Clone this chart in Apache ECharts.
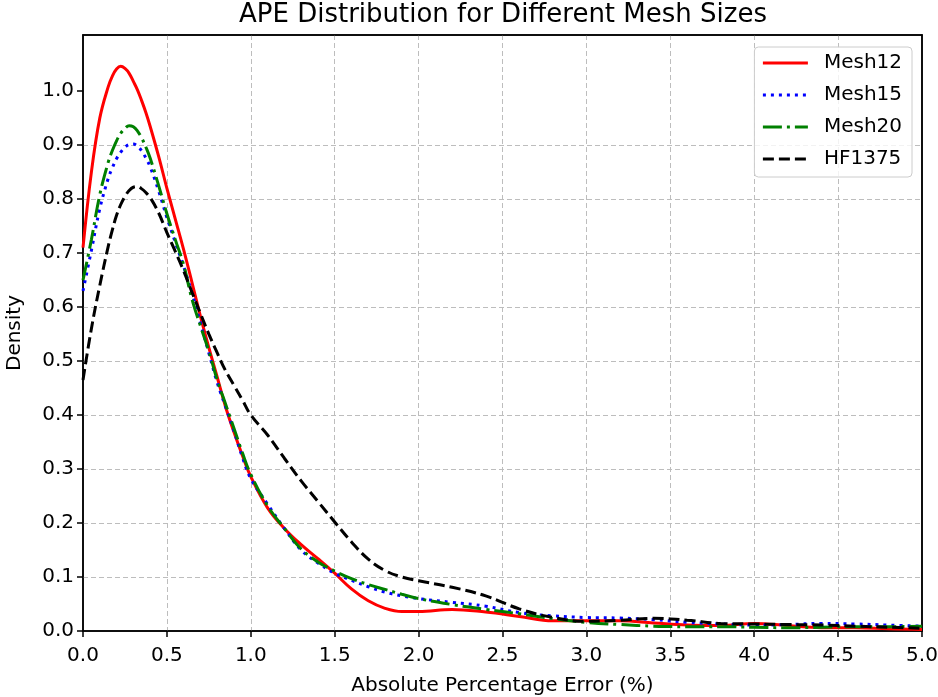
<!DOCTYPE html>
<html>
<head>
<meta charset="utf-8">
<script src="https://cdn.jsdelivr.net/npm/echarts@6/dist/echarts.min.js"></script>
<style>
html,body{margin:0;padding:0;background:#fff;}
#chart{width:938px;height:697px;}
</style>
</head>
<body>
<div id="chart"></div>
<script>
// ---- data ----
const chartTitle = 'APE Distribution for Different Mesh Sizes';
const xAxisName = 'Absolute Percentage Error (%)';
const yAxisName = 'Density';
const seriesNames = ['Mesh12', 'Mesh15', 'Mesh20', 'HF1375'];
const xTicks = [0, 0.5, 1, 1.5, 2, 2.5, 3, 3.5, 4, 4.5, 5];
const yTicks = [0, 0.1, 0.2, 0.3, 0.4, 0.5, 0.6, 0.7, 0.8, 0.9, 1.0];

const apeX = [0, 0.05, 0.1, 0.15, 0.175, 0.2, 0.225, 0.25, 0.275, 0.3, 0.325, 0.35, 0.375, 0.4, 0.45, 0.5, 0.55, 0.6, 0.65, 0.7, 0.75, 0.8, 0.85, 0.9, 0.95,
  1.0, 1.1, 1.2, 1.3, 1.4, 1.5, 1.6, 1.7, 1.8, 1.9, 2.0, 2.2, 2.4, 2.6, 2.8, 3.0, 3.2, 3.4, 3.6, 3.8, 4.0, 4.2, 4.4, 4.6, 4.8, 5.0];

const mesh12 = [0.71, 0.850, 0.950, 1.008, 1.028, 1.041, 1.046, 1.042, 1.033, 1.018, 1.002, 0.982, 0.960, 0.935, 0.880, 0.820, 0.763, 0.706, 0.645, 0.583, 0.525, 0.470, 0.415, 0.368, 0.325,
  0.286, 0.228, 0.190, 0.160, 0.134, 0.107, 0.078, 0.056, 0.042, 0.036, 0.036, 0.040, 0.035, 0.027, 0.019, 0.019, 0.019, 0.015, 0.011, 0.010, 0.014, 0.010, 0.006, 0.006, 0.004, 0.003];

const mesh15 = [0.63, 0.705, 0.782, 0.838, 0.858, 0.875, 0.887, 0.896, 0.901, 0.902, 0.898, 0.889, 0.876, 0.860, 0.816, 0.766, 0.720, 0.675, 0.625, 0.570, 0.515, 0.460, 0.415, 0.370, 0.322,
  0.282, 0.235, 0.190, 0.150, 0.126, 0.107, 0.094, 0.082, 0.072, 0.065, 0.060, 0.053, 0.046, 0.034, 0.028, 0.025, 0.024, 0.021, 0.016, 0.013, 0.011, 0.012, 0.014, 0.013, 0.011, 0.009];

const mesh20 = [0.65, 0.725, 0.808, 0.868, 0.890, 0.908, 0.922, 0.931, 0.936, 0.934, 0.926, 0.913, 0.896, 0.876, 0.826, 0.773, 0.725, 0.678, 0.614, 0.565, 0.518, 0.465, 0.420, 0.375, 0.330,
  0.290, 0.232, 0.190, 0.152, 0.128, 0.111, 0.097, 0.086, 0.077, 0.068, 0.060, 0.049, 0.040, 0.032, 0.023, 0.016, 0.012, 0.009, 0.008, 0.008, 0.007, 0.006, 0.007, 0.008, 0.008, 0.0086];

const hf1375 = [0.465, 0.560, 0.640, 0.712, 0.743, 0.770, 0.790, 0.805, 0.816, 0.822, 0.823, 0.819, 0.812, 0.803, 0.775, 0.738, 0.703, 0.667, 0.627, 0.588, 0.550, 0.515, 0.482, 0.455, 0.428,
  0.400, 0.363, 0.320, 0.278, 0.240, 0.202, 0.165, 0.133, 0.112, 0.100, 0.093, 0.081, 0.065, 0.041, 0.025, 0.018, 0.020, 0.0235, 0.020, 0.014, 0.013, 0.012, 0.011, 0.009, 0.007, 0.005];

const seriesValues = [mesh12, mesh15, mesh20, hf1375];

// ---- styles ----
const seriesColors = ['#ff0000', '#0000ff', '#008000', '#000000'];
const seriesDash = ['solid', [3, 5], [19, 5, 3, 5], [11, 5]];

const chart = echarts.init(document.getElementById('chart'), null, {renderer: 'canvas'});
const font = 'DejaVu Sans';

const axisLineStyle = {color: '#000', width: 1.5};
const gridLine = {color: '#bdbdbd', width: 1, type: [5, 3]};

const option = {
  backgroundColor: '#ffffff',
  animation: false,
  textStyle: {fontFamily: font},
  title: {
    text: chartTitle,
    left: 234,
    top: 0,
    padding: [2, 5, 5, 5],
    textStyle: {fontFamily: font, fontSize: 26, fontWeight: 'normal', color: '#000'}
  },
  legend: {
    data: seriesNames,
    orient: 'vertical',
    right: 26,
    top: 47,
    padding: [6, 10, 8, 7],
    itemGap: 12,
    itemWidth: 45,
    itemHeight: 14,
    itemStyle: {opacity: 0},
    lineStyle: {width: 3},
    backgroundColor: 'rgba(255,255,255,0.8)',
    borderColor: '#cccccc',
    borderWidth: 1,
    borderRadius: 4,
    textStyle: {fontFamily: font, fontSize: 20, color: '#000', padding: [0, 0, 0, 11]}
  },
  grid: {
    left: 83, right: 16, top: 35, bottom: 66,
    show: true,
    borderColor: '#000',
    borderWidth: 1.5,
    backgroundColor: 'transparent',
    containLabel: false,
    outerBoundsMode: 'none'
  },
  xAxis: [{
    type: 'value',
    min: 0, max: 5, interval: 0.5,
    name: xAxisName,
    nameLocation: 'middle',
    nameGap: 45,
    nameTextStyle: {fontFamily: font, fontSize: 20, color: '#000'},
    axisLine: {show: true, lineStyle: axisLineStyle},
    axisTick: {show: true, length: 6, lineStyle: axisLineStyle},
    axisLabel: {
      margin: 15, fontFamily: font, fontSize: 20, color: '#000',
      formatter: v => v.toFixed(1)
    },
    splitLine: {show: true, showMinLine: false, showMaxLine: false, lineStyle: gridLine}
  }, {
    type: 'value', position: 'top', min: 0, max: 5,
    axisLine: {show: true, onZero: false, lineStyle: axisLineStyle},
    axisTick: {show: false}, axisLabel: {show: false}, splitLine: {show: false}
  }],
  yAxis: [{
    type: 'value',
    min: 0, max: 1.104, interval: 0.1,
    name: yAxisName,
    nameLocation: 'middle',
    nameGap: 58,
    nameRotate: 90,
    nameTextStyle: {fontFamily: font, fontSize: 20, color: '#000'},
    axisLine: {show: true, lineStyle: axisLineStyle},
    axisTick: {show: true, length: 6, customValues: yTicks, lineStyle: axisLineStyle},
    axisLabel: {
      margin: 9, fontFamily: font, fontSize: 20, color: '#000',
      customValues: yTicks,
      formatter: v => (v > 1.05 ? '' : v.toFixed(1))
    },
    splitLine: {show: true, showMinLine: false, showMaxLine: false, lineStyle: gridLine}
  }, {
    type: 'value', position: 'right', min: 0, max: 1.104,
    axisLine: {show: true, onZero: false, lineStyle: axisLineStyle},
    axisTick: {show: false}, axisLabel: {show: false}, splitLine: {show: false}
  }],
  series: seriesNames.map((name, k) => ({
    name: name,
    type: 'line',
    xAxisIndex: 0,
    yAxisIndex: 0,
    data: apeX.map((x, i) => [x, seriesValues[k][i]]),
    showSymbol: false,
    symbol: 'none',
    smooth: 0.4,
    clip: true,
    color: seriesColors[k],
    lineStyle: {color: seriesColors[k], width: 3, type: seriesDash[k], cap: 'butt'},
    emphasis: {disabled: true}
  }))
};

chart.setOption(option);
</script>
</body>
</html>
